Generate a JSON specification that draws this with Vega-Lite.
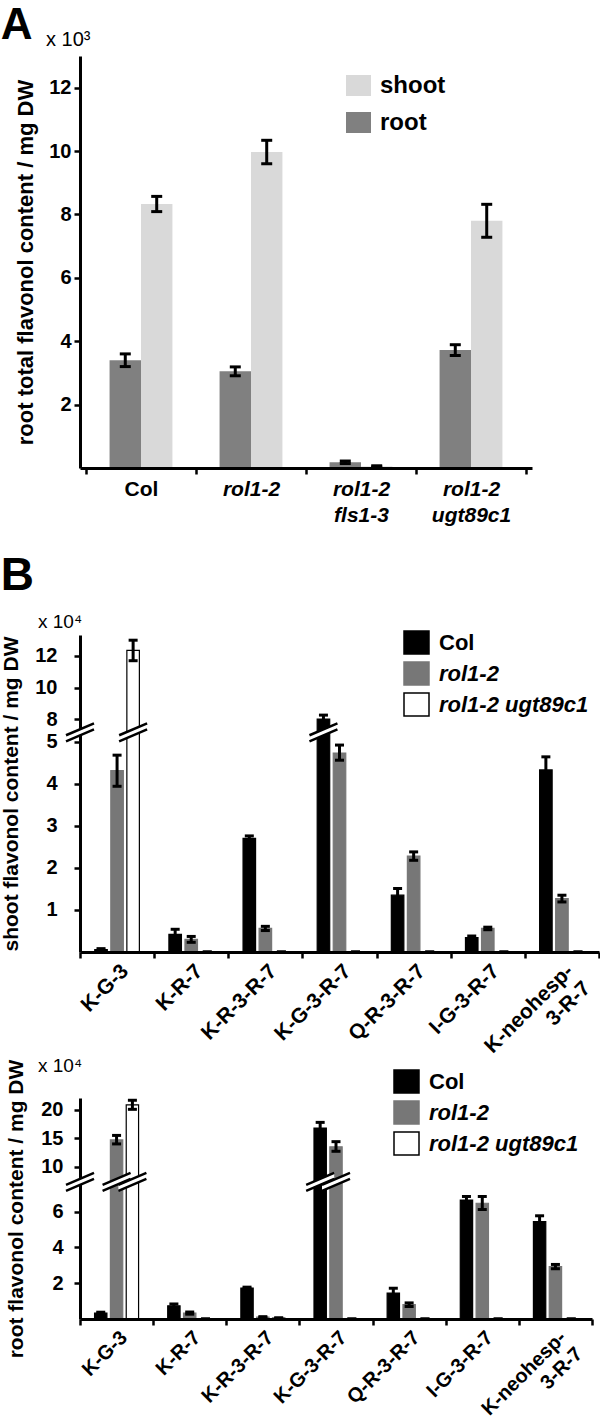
{
  "$schema": "https://vega.github.io/schema/vega-lite/v6.json",
  "padding": {"left": 0, "top": 4, "right": 0, "bottom": 0},
  "title": {"text": "A", "anchor": "start", "frame": "bounds", "fontSize": 44, "fontWeight": "bold", "offset": -18},
  "spacing": 28,
  "resolve": {"scale": {"color": "independent", "fill": "independent", "stroke": "independent", "xOffset": "independent", "x": "independent", "y": "independent"}, "legend": {"color": "independent", "fill": "independent", "stroke": "independent"}},
  "vconcat": [
    {
      "title": {"text": "x 10³", "anchor": "start", "frame": "group", "dx": -34, "fontSize": 20, "fontWeight": "normal", "offset": 6},
      "width": 452,
      "height": 412,
      "data": {"values": [
        {"line": "Col", "tissue": "root", "value": 3.40, "lo": 3.20, "hi": 3.60},
        {"line": "Col", "tissue": "shoot", "value": 8.33, "lo": 8.09, "hi": 8.57},
        {"line": "rol1-2", "tissue": "root", "value": 3.05, "lo": 2.91, "hi": 3.19},
        {"line": "rol1-2", "tissue": "shoot", "value": 9.97, "lo": 9.60, "hi": 10.34},
        {"line": "rol1-2|fls1-3", "tissue": "root", "value": 0.18, "lo": 0.14, "hi": 0.22},
        {"line": "rol1-2|fls1-3", "tissue": "shoot", "value": 0.05, "lo": 0.03, "hi": 0.07},
        {"line": "rol1-2|ugt89c1", "tissue": "root", "value": 3.72, "lo": 3.55, "hi": 3.89},
        {"line": "rol1-2|ugt89c1", "tissue": "shoot", "value": 7.80, "lo": 7.28, "hi": 8.32}
      ]},
      "encoding": {
        "x": {"field": "line", "type": "nominal",
          "scale": {"domain": ["Col", "rol1-2", "rol1-2|fls1-3", "rol1-2|ugt89c1"], "paddingInner": 0, "paddingOuter": 0.0545},
          "axis": {"title": null, "labelAngle": 0, "labelExpr": "split(datum.label, '|')", "labelFontSize": 21, "labelLineHeight": 26,
            "labelFontStyle": {"condition": {"test": "datum.value == 'Col'", "value": "normal"}, "value": "italic"},
            "tickBand": "extent", "domainWidth": 3, "tickWidth": 2.5, "tickSize": 6, "labelPadding": 4, "zindex": 1}},
        "xOffset": {"field": "tissue", "type": "nominal", "scale": {"domain": ["root", "shoot"], "paddingInner": 0, "paddingOuter": 0.75}}
      },
      "layer": [
        {
          "mark": {"type": "bar"},
          "encoding": {
            "y": {"field": "value", "type": "quantitative", "scale": {"domain": [0, 13], "nice": false, "zero": false},
              "axis": {"title": "root total flavonol content / mg DW", "values": [2, 4, 6, 8, 10, 12], "labelFontSize": 20, "titleFontSize": 22, "domainWidth": 3, "tickWidth": 2.5, "tickSize": 6, "labelPadding": 3, "titlePadding": 11, "zindex": 1}},
            "color": {"field": "tissue", "type": "nominal", "scale": {"domain": ["shoot", "root"], "range": ["#d9d9d9", "#808080"]},
              "legend": {"title": null, "orient": "none", "legendX": 265, "legendY": 16, "padding": 0, "symbolType": "M-1,-0.84H1V0.84H-1Z", "symbolSize": 625, "symbolOpacity": 1, "labelFontSize": 24, "labelFontWeight": "bold", "labelOffset": 8, "rowPadding": 11}}
          }
        },
        {
          "mark": {"type": "rule", "strokeWidth": 3, "color": "black"},
          "encoding": {
            "y": {"field": "lo", "type": "quantitative", "scale": {"domain": [0, 13], "nice": false, "zero": false},
              "axis": {"title": "root total flavonol content / mg DW", "values": [2, 4, 6, 8, 10, 12], "labelFontSize": 20, "titleFontSize": 22, "domainWidth": 3, "tickWidth": 2.5, "tickSize": 6, "labelPadding": 3, "titlePadding": 11, "zindex": 1}},
            "y2": {"field": "hi"}
          }
        },
        {
          "mark": {"type": "tick", "size": 11, "thickness": 3, "color": "black", "opacity": 1},
          "encoding": {"y": {"field": "lo", "type": "quantitative", "scale": {"domain": [0, 13], "nice": false, "zero": false},
              "axis": {"title": "root total flavonol content / mg DW", "values": [2, 4, 6, 8, 10, 12], "labelFontSize": 20, "titleFontSize": 22, "domainWidth": 3, "tickWidth": 2.5, "tickSize": 6, "labelPadding": 3, "titlePadding": 11, "zindex": 1}}}
        },
        {
          "mark": {"type": "tick", "size": 11, "thickness": 3, "color": "black", "opacity": 1},
          "encoding": {"y": {"field": "hi", "type": "quantitative", "scale": {"domain": [0, 13], "nice": false, "zero": false},
              "axis": {"title": "root total flavonol content / mg DW", "values": [2, 4, 6, 8, 10, 12], "labelFontSize": 20, "titleFontSize": 22, "domainWidth": 3, "tickWidth": 2.5, "tickSize": 6, "labelPadding": 3, "titlePadding": 11, "zindex": 1}}}
        }
      ]
    },
    {
      "title": {"text": "B", "anchor": "start", "frame": "bounds", "fontSize": 46, "fontWeight": "bold", "offset": 13},
      "spacing": -17,
      "resolve": {"scale": {"color": "independent", "fill": "independent", "stroke": "independent", "xOffset": "independent", "x": "independent", "y": "independent"}, "legend": {"color": "independent", "fill": "independent", "stroke": "independent"}},
      "vconcat": [
        {
          "title": {"text": "x 10⁴", "anchor": "start", "frame": "group", "dx": -42, "fontSize": 19, "fontWeight": "normal", "offset": -3},
          "width": 519,
          "height": 317,
          "data": {"values": [
            {"compound": "K-G-3", "genotype": "Col", "value": 0.06, "lo": 0.04, "hi": 0.08},
            {"compound": "K-G-3", "genotype": "rol1-2", "value": 4.31, "lo": 3.94, "hi": 4.68},
            {"compound": "K-G-3", "genotype": "rol1-2 ugt89c1", "value": 12.35, "lo": 11.7, "hi": 13.0},
            {"compound": "K-R-7", "genotype": "Col", "value": 0.42, "lo": 0.30, "hi": 0.54},
            {"compound": "K-R-7", "genotype": "rol1-2", "value": 0.30, "lo": 0.23, "hi": 0.37},
            {"compound": "K-R-7", "genotype": "rol1-2 ugt89c1", "value": 0, "lo": 0, "hi": 0},
            {"compound": "K-R-3-R-7", "genotype": "Col", "value": 2.70, "lo": 2.64, "hi": 2.76},
            {"compound": "K-R-3-R-7", "genotype": "rol1-2", "value": 0.56, "lo": 0.51, "hi": 0.61},
            {"compound": "K-R-3-R-7", "genotype": "rol1-2 ugt89c1", "value": 0, "lo": 0, "hi": 0},
            {"compound": "K-G-3-R-7", "genotype": "Col", "value": 8.0, "lo": 7.78, "hi": 8.25},
            {"compound": "K-G-3-R-7", "genotype": "rol1-2", "value": 4.73, "lo": 4.56, "hi": 4.92},
            {"compound": "K-G-3-R-7", "genotype": "rol1-2 ugt89c1", "value": 0, "lo": 0, "hi": 0},
            {"compound": "Q-R-3-R-7", "genotype": "Col", "value": 1.35, "lo": 1.20, "hi": 1.51},
            {"compound": "Q-R-3-R-7", "genotype": "rol1-2", "value": 2.28, "lo": 2.18, "hi": 2.38},
            {"compound": "Q-R-3-R-7", "genotype": "rol1-2 ugt89c1", "value": 0, "lo": 0, "hi": 0},
            {"compound": "I-G-3-R-7", "genotype": "Col", "value": 0.34, "lo": 0.30, "hi": 0.38},
            {"compound": "I-G-3-R-7", "genotype": "rol1-2", "value": 0.56, "lo": 0.53, "hi": 0.59},
            {"compound": "I-G-3-R-7", "genotype": "rol1-2 ugt89c1", "value": 0, "lo": 0, "hi": 0},
            {"compound": "K-neohesp-|3-R-7", "genotype": "Col", "value": 4.33, "lo": 4.02, "hi": 4.64},
            {"compound": "K-neohesp-|3-R-7", "genotype": "rol1-2", "value": 1.27, "lo": 1.19, "hi": 1.35},
            {"compound": "K-neohesp-|3-R-7", "genotype": "rol1-2 ugt89c1", "value": 0, "lo": 0, "hi": 0}
          ]},
          "encoding": {
            "x": {"field": "compound", "type": "nominal",
              "scale": {"domain": ["K-G-3", "K-R-7", "K-R-3-R-7", "K-G-3-R-7", "Q-R-3-R-7", "I-G-3-R-7", "K-neohesp-|3-R-7"], "paddingInner": 0, "paddingOuter": 0},
              "axis": {"title": null, "labelAngle": -45, "labelExpr": "split(datum.label, '|')", "labelFontSize": 21, "labelLineHeight": 24, "tickBand": "extent", "domainWidth": 3, "tickWidth": 2.5, "tickSize": 6, "labelPadding": 2, "zindex": 1}}
          },
          "layer": [
            {
              "mark": {"type": "bar", "strokeWidth": 1.2},
              "encoding": {
                "xOffset": {"field": "genotype", "type": "nominal", "scale": {"domain": ["Col", "rol1-2", "rol1-2 ugt89c1"], "paddingInner": 0.22, "paddingOuter": 0.92}},
                "y": {"field": "value", "type": "quantitative", "scale": {"domain": [0, 5, 7.75, 13.33], "range": [317, 106.7, 88, 0], "nice": false, "zero": false},
                  "axis": {"title": "shoot flavonol content / mg DW", "values": [1, 2, 3, 4, 5, 8, 10, 12], "labelFontSize": 20, "titleFontSize": 21, "domainWidth": 3, "tickWidth": 2.5, "tickSize": 6, "labelPadding": 17, "titlePadding": 13, "zindex": 0}},
                "fill": {"field": "genotype", "type": "nominal", "scale": {"domain": ["Col", "rol1-2", "rol1-2 ugt89c1"], "range": ["#000000", "#777777", "#ffffff"]},
                  "legend": {"title": null, "orient": "none", "legendX": 323, "legendY": -6, "padding": 0, "symbolType": "M-1,-0.92H1V0.92H-1Z", "symbolSize": 625, "symbolStrokeWidth": 1.5, "symbolOpacity": 1, "labelFontSize": 22, "labelFontWeight": "bold", "labelFontStyle": {"expr": "datum.label === 'Col' ? 'normal' : 'italic'"}, "labelOffset": 9, "rowPadding": 2}},
                "stroke": {"field": "genotype", "type": "nominal", "scale": {"domain": ["Col", "rol1-2", "rol1-2 ugt89c1"], "range": ["#000000", "#777777", "#000000"]},
                  "legend": {"title": null, "orient": "none", "legendX": 323, "legendY": -6, "padding": 0, "symbolType": "M-1,-0.92H1V0.92H-1Z", "symbolSize": 625, "symbolStrokeWidth": 1.5, "symbolOpacity": 1, "labelFontSize": 22, "labelFontWeight": "bold", "labelFontStyle": {"expr": "datum.label === 'Col' ? 'normal' : 'italic'"}, "labelOffset": 9, "rowPadding": 2}}
              }
            },
            {
              "mark": {"type": "rule", "strokeWidth": 3, "color": "black"},
              "encoding": {
                "xOffset": {"field": "genotype", "type": "nominal", "scale": {"domain": ["Col", "rol1-2", "rol1-2 ugt89c1"], "paddingInner": 0.22, "paddingOuter": 0.92}},
                "y": {"field": "lo", "type": "quantitative", "scale": {"domain": [0, 5, 7.75, 13.33], "range": [317, 106.7, 88, 0], "nice": false, "zero": false},
                  "axis": {"title": "shoot flavonol content / mg DW", "values": [1, 2, 3, 4, 5, 8, 10, 12], "labelFontSize": 20, "titleFontSize": 21, "domainWidth": 3, "tickWidth": 2.5, "tickSize": 6, "labelPadding": 17, "titlePadding": 13, "zindex": 0}},
                "y2": {"field": "hi"}
              }
            },
            {
              "mark": {"type": "tick", "size": 9, "thickness": 3, "color": "black", "opacity": 1},
              "encoding": {
                "xOffset": {"field": "genotype", "type": "nominal", "scale": {"domain": ["Col", "rol1-2", "rol1-2 ugt89c1"], "paddingInner": 0.22, "paddingOuter": 0.92}},
                "y": {"field": "lo", "type": "quantitative", "scale": {"domain": [0, 5, 7.75, 13.33], "range": [317, 106.7, 88, 0], "nice": false, "zero": false},
                  "axis": {"title": "shoot flavonol content / mg DW", "values": [1, 2, 3, 4, 5, 8, 10, 12], "labelFontSize": 20, "titleFontSize": 21, "domainWidth": 3, "tickWidth": 2.5, "tickSize": 6, "labelPadding": 17, "titlePadding": 13, "zindex": 0}}
              }
            },
            {
              "mark": {"type": "tick", "size": 9, "thickness": 3, "color": "black", "opacity": 1},
              "encoding": {
                "xOffset": {"field": "genotype", "type": "nominal", "scale": {"domain": ["Col", "rol1-2", "rol1-2 ugt89c1"], "paddingInner": 0.22, "paddingOuter": 0.92}},
                "y": {"field": "hi", "type": "quantitative", "scale": {"domain": [0, 5, 7.75, 13.33], "range": [317, 106.7, 88, 0], "nice": false, "zero": false},
                  "axis": {"title": "shoot flavonol content / mg DW", "values": [1, 2, 3, 4, 5, 8, 10, 12], "labelFontSize": 20, "titleFontSize": 21, "domainWidth": 3, "tickWidth": 2.5, "tickSize": 6, "labelPadding": 17, "titlePadding": 13, "zindex": 0}}
              }
            },
            {
              "data": {"values": [{"compound": "K-G-3", "genotype": "rol1-2 ugt89c1", "brk": 6.38}, {"compound": "K-G-3-R-7", "genotype": "Col", "brk": 6.38}]},
              "mark": {"type": "point", "shape": "M-1,0.21L1,-0.64L1,-0.21L-1,0.64Z", "size": 784, "filled": true, "fill": "white", "strokeWidth": 0, "opacity": 1},
              "encoding": {
                "xOffset": {"field": "genotype", "type": "nominal", "scale": {"domain": ["Col", "rol1-2", "rol1-2 ugt89c1"], "paddingInner": 0.22, "paddingOuter": 0.92}},
                "y": {"field": "brk", "type": "quantitative", "scale": {"domain": [0, 5, 7.75, 13.33], "range": [317, 106.7, 88, 0], "nice": false, "zero": false},
                  "axis": {"title": "shoot flavonol content / mg DW", "values": [1, 2, 3, 4, 5, 8, 10, 12], "labelFontSize": 20, "titleFontSize": 21, "domainWidth": 3, "tickWidth": 2.5, "tickSize": 6, "labelPadding": 17, "titlePadding": 13, "zindex": 0}}
              }
            },
            {
              "data": {"values": [{"compound": "K-G-3", "genotype": "rol1-2 ugt89c1", "brk": 6.38}, {"compound": "K-G-3-R-7", "genotype": "Col", "brk": 6.38}]},
              "mark": {"type": "point", "shape": "M-1,0.21L1,-0.64M-1,0.64L1,-0.21", "size": 784, "filled": false, "stroke": "black", "strokeWidth": 2.5, "opacity": 1},
              "encoding": {
                "xOffset": {"field": "genotype", "type": "nominal", "scale": {"domain": ["Col", "rol1-2", "rol1-2 ugt89c1"], "paddingInner": 0.22, "paddingOuter": 0.92}},
                "y": {"field": "brk", "type": "quantitative", "scale": {"domain": [0, 5, 7.75, 13.33], "range": [317, 106.7, 88, 0], "nice": false, "zero": false},
                  "axis": {"title": "shoot flavonol content / mg DW", "values": [1, 2, 3, 4, 5, 8, 10, 12], "labelFontSize": 20, "titleFontSize": 21, "domainWidth": 3, "tickWidth": 2.5, "tickSize": 6, "labelPadding": 17, "titlePadding": 13, "zindex": 0}}
              }
            },
            {
              "data": {"values": [{"compound": "K-G-3", "brk": 6.38}]},
              "mark": {"type": "point", "shape": "M-1,0.21L1,-0.64L1,-0.21L-1,0.64Z", "size": 784, "filled": true, "fill": "white", "strokeWidth": 0, "opacity": 1},
              "encoding": {
                "x": {"field": "compound", "type": "nominal", "bandPosition": 0},
                "y": {"field": "brk", "type": "quantitative", "scale": {"domain": [0, 5, 7.75, 13.33], "range": [317, 106.7, 88, 0], "nice": false, "zero": false},
                  "axis": {"title": "shoot flavonol content / mg DW", "values": [1, 2, 3, 4, 5, 8, 10, 12], "labelFontSize": 20, "titleFontSize": 21, "domainWidth": 3, "tickWidth": 2.5, "tickSize": 6, "labelPadding": 17, "titlePadding": 13, "zindex": 0}}
              }
            },
            {
              "data": {"values": [{"compound": "K-G-3", "brk": 6.38}]},
              "mark": {"type": "point", "shape": "M-1,0.21L1,-0.64M-1,0.64L1,-0.21", "size": 784, "filled": false, "stroke": "black", "strokeWidth": 2.5, "opacity": 1},
              "encoding": {
                "x": {"field": "compound", "type": "nominal", "bandPosition": 0},
                "y": {"field": "brk", "type": "quantitative", "scale": {"domain": [0, 5, 7.75, 13.33], "range": [317, 106.7, 88, 0], "nice": false, "zero": false},
                  "axis": {"title": "shoot flavonol content / mg DW", "values": [1, 2, 3, 4, 5, 8, 10, 12], "labelFontSize": 20, "titleFontSize": 21, "domainWidth": 3, "tickWidth": 2.5, "tickSize": 6, "labelPadding": 17, "titlePadding": 13, "zindex": 0}}
              }
            }
          ]
        },
        {
          "title": {"text": "x 10⁴", "anchor": "start", "frame": "group", "dx": -42, "fontSize": 19, "fontWeight": "normal", "offset": -17},
          "width": 512,
          "height": 221,
          "data": {"values": [
            {"compound": "K-G-3", "genotype": "Col", "value": 0.33, "lo": 0.28, "hi": 0.38},
            {"compound": "K-G-3", "genotype": "rol1-2", "value": 14.7, "lo": 14.0, "hi": 15.5},
            {"compound": "K-G-3", "genotype": "rol1-2 ugt89c1", "value": 20.9, "lo": 20.1, "hi": 21.7},
            {"compound": "K-R-7", "genotype": "Col", "value": 0.74, "lo": 0.64, "hi": 0.84},
            {"compound": "K-R-7", "genotype": "rol1-2", "value": 0.33, "lo": 0.27, "hi": 0.39},
            {"compound": "K-R-7", "genotype": "rol1-2 ugt89c1", "value": 0, "lo": 0, "hi": 0},
            {"compound": "K-R-3-R-7", "genotype": "Col", "value": 1.73, "lo": 1.68, "hi": 1.78},
            {"compound": "K-R-3-R-7", "genotype": "rol1-2", "value": 0.1, "lo": 0.07, "hi": 0.13},
            {"compound": "K-R-3-R-7", "genotype": "rol1-2 ugt89c1", "value": 0.05, "lo": 0.03, "hi": 0.07},
            {"compound": "K-G-3-R-7", "genotype": "Col", "value": 16.8, "lo": 15.9, "hi": 17.8},
            {"compound": "K-G-3-R-7", "genotype": "rol1-2", "value": 13.5, "lo": 12.7, "hi": 14.4},
            {"compound": "K-G-3-R-7", "genotype": "rol1-2 ugt89c1", "value": 0, "lo": 0, "hi": 0},
            {"compound": "Q-R-3-R-7", "genotype": "Col", "value": 1.45, "lo": 1.2, "hi": 1.72},
            {"compound": "Q-R-3-R-7", "genotype": "rol1-2", "value": 0.8, "lo": 0.7, "hi": 0.9},
            {"compound": "Q-R-3-R-7", "genotype": "rol1-2 ugt89c1", "value": 0, "lo": 0, "hi": 0},
            {"compound": "I-G-3-R-7", "genotype": "Col", "value": 6.65, "lo": 6.45, "hi": 6.85},
            {"compound": "I-G-3-R-7", "genotype": "rol1-2", "value": 6.47, "lo": 6.12, "hi": 6.85},
            {"compound": "I-G-3-R-7", "genotype": "rol1-2 ugt89c1", "value": 0, "lo": 0, "hi": 0},
            {"compound": "K-neohesp-|3-R-7", "genotype": "Col", "value": 5.45, "lo": 5.15, "hi": 5.77},
            {"compound": "K-neohesp-|3-R-7", "genotype": "rol1-2", "value": 2.93, "lo": 2.81, "hi": 3.05},
            {"compound": "K-neohesp-|3-R-7", "genotype": "rol1-2 ugt89c1", "value": 0, "lo": 0, "hi": 0}
          ]},
          "encoding": {
            "x": {"field": "compound", "type": "nominal",
              "scale": {"domain": ["K-G-3", "K-R-7", "K-R-3-R-7", "K-G-3-R-7", "Q-R-3-R-7", "I-G-3-R-7", "K-neohesp-|3-R-7"], "paddingInner": 0, "paddingOuter": 0},
              "axis": {"title": null, "labelAngle": -45, "labelExpr": "split(datum.label, '|')", "labelFontSize": 20, "labelLineHeight": 23, "tickBand": "extent", "domainWidth": 3, "tickWidth": 2.5, "tickSize": 6, "labelPadding": 2, "zindex": 1}}
          },
          "layer": [
            {
              "mark": {"type": "bar", "strokeWidth": 1.2},
              "encoding": {
                "xOffset": {"field": "genotype", "type": "nominal", "scale": {"domain": ["Col", "rol1-2", "rol1-2 ugt89c1"], "paddingInner": 0.22, "paddingOuter": 0.92}},
                "y": {"field": "value", "type": "quantitative", "scale": {"domain": [0, 7.1, 9.1, 22.1], "range": [221, 94, 73.7, 0], "nice": false, "zero": false},
                  "axis": {"title": "root flavonol content / mg DW", "values": [2, 4, 6, 10, 15, 20], "labelFontSize": 20, "titleFontSize": 21, "domainWidth": 3, "tickWidth": 2.5, "tickSize": 6, "labelPadding": 11, "titlePadding": 14, "zindex": 0}},
                "fill": {"field": "genotype", "type": "nominal", "scale": {"domain": ["Col", "rol1-2", "rol1-2 ugt89c1"], "range": ["#000000", "#777777", "#ffffff"]},
                  "legend": {"title": null, "orient": "none", "legendX": 313, "legendY": -30, "padding": 0, "symbolType": "M-1,-0.92H1V0.92H-1Z", "symbolSize": 625, "symbolStrokeWidth": 1.5, "symbolOpacity": 1, "labelFontSize": 22, "labelFontWeight": "bold", "labelFontStyle": {"expr": "datum.label === 'Col' ? 'normal' : 'italic'"}, "labelOffset": 9, "rowPadding": 2}},
                "stroke": {"field": "genotype", "type": "nominal", "scale": {"domain": ["Col", "rol1-2", "rol1-2 ugt89c1"], "range": ["#000000", "#777777", "#000000"]},
                  "legend": {"title": null, "orient": "none", "legendX": 313, "legendY": -30, "padding": 0, "symbolType": "M-1,-0.92H1V0.92H-1Z", "symbolSize": 625, "symbolStrokeWidth": 1.5, "symbolOpacity": 1, "labelFontSize": 22, "labelFontWeight": "bold", "labelFontStyle": {"expr": "datum.label === 'Col' ? 'normal' : 'italic'"}, "labelOffset": 9, "rowPadding": 2}}
              }
            },
            {
              "mark": {"type": "rule", "strokeWidth": 3, "color": "black"},
              "encoding": {
                "xOffset": {"field": "genotype", "type": "nominal", "scale": {"domain": ["Col", "rol1-2", "rol1-2 ugt89c1"], "paddingInner": 0.22, "paddingOuter": 0.92}},
                "y": {"field": "lo", "type": "quantitative", "scale": {"domain": [0, 7.1, 9.1, 22.1], "range": [221, 94, 73.7, 0], "nice": false, "zero": false},
                  "axis": {"title": "root flavonol content / mg DW", "values": [2, 4, 6, 10, 15, 20], "labelFontSize": 20, "titleFontSize": 21, "domainWidth": 3, "tickWidth": 2.5, "tickSize": 6, "labelPadding": 11, "titlePadding": 14, "zindex": 0}},
                "y2": {"field": "hi"}
              }
            },
            {
              "mark": {"type": "tick", "size": 9, "thickness": 3, "color": "black", "opacity": 1},
              "encoding": {
                "xOffset": {"field": "genotype", "type": "nominal", "scale": {"domain": ["Col", "rol1-2", "rol1-2 ugt89c1"], "paddingInner": 0.22, "paddingOuter": 0.92}},
                "y": {"field": "lo", "type": "quantitative", "scale": {"domain": [0, 7.1, 9.1, 22.1], "range": [221, 94, 73.7, 0], "nice": false, "zero": false},
                  "axis": {"title": "root flavonol content / mg DW", "values": [2, 4, 6, 10, 15, 20], "labelFontSize": 20, "titleFontSize": 21, "domainWidth": 3, "tickWidth": 2.5, "tickSize": 6, "labelPadding": 11, "titlePadding": 14, "zindex": 0}}
              }
            },
            {
              "mark": {"type": "tick", "size": 9, "thickness": 3, "color": "black", "opacity": 1},
              "encoding": {
                "xOffset": {"field": "genotype", "type": "nominal", "scale": {"domain": ["Col", "rol1-2", "rol1-2 ugt89c1"], "paddingInner": 0.22, "paddingOuter": 0.92}},
                "y": {"field": "hi", "type": "quantitative", "scale": {"domain": [0, 7.1, 9.1, 22.1], "range": [221, 94, 73.7, 0], "nice": false, "zero": false},
                  "axis": {"title": "root flavonol content / mg DW", "values": [2, 4, 6, 10, 15, 20], "labelFontSize": 20, "titleFontSize": 21, "domainWidth": 3, "tickWidth": 2.5, "tickSize": 6, "labelPadding": 11, "titlePadding": 14, "zindex": 0}}
              }
            },
            {
              "data": {"values": [{"compound": "K-G-3", "genotype": "rol1-2", "brk": 8.1}, {"compound": "K-G-3", "genotype": "rol1-2 ugt89c1", "brk": 8.1}, {"compound": "K-G-3-R-7", "genotype": "Col", "brk": 8.1}, {"compound": "K-G-3-R-7", "genotype": "rol1-2", "brk": 8.1}]},
              "mark": {"type": "point", "shape": "M-1,0.21L1,-0.64L1,-0.21L-1,0.64Z", "size": 784, "filled": true, "fill": "white", "strokeWidth": 0, "opacity": 1},
              "encoding": {
                "xOffset": {"field": "genotype", "type": "nominal", "scale": {"domain": ["Col", "rol1-2", "rol1-2 ugt89c1"], "paddingInner": 0.22, "paddingOuter": 0.92}},
                "y": {"field": "brk", "type": "quantitative", "scale": {"domain": [0, 7.1, 9.1, 22.1], "range": [221, 94, 73.7, 0], "nice": false, "zero": false},
                  "axis": {"title": "root flavonol content / mg DW", "values": [2, 4, 6, 10, 15, 20], "labelFontSize": 20, "titleFontSize": 21, "domainWidth": 3, "tickWidth": 2.5, "tickSize": 6, "labelPadding": 11, "titlePadding": 14, "zindex": 0}}
              }
            },
            {
              "data": {"values": [{"compound": "K-G-3", "genotype": "rol1-2", "brk": 8.1}, {"compound": "K-G-3", "genotype": "rol1-2 ugt89c1", "brk": 8.1}, {"compound": "K-G-3-R-7", "genotype": "Col", "brk": 8.1}, {"compound": "K-G-3-R-7", "genotype": "rol1-2", "brk": 8.1}]},
              "mark": {"type": "point", "shape": "M-1,0.21L1,-0.64M-1,0.64L1,-0.21", "size": 784, "filled": false, "stroke": "black", "strokeWidth": 2.5, "opacity": 1},
              "encoding": {
                "xOffset": {"field": "genotype", "type": "nominal", "scale": {"domain": ["Col", "rol1-2", "rol1-2 ugt89c1"], "paddingInner": 0.22, "paddingOuter": 0.92}},
                "y": {"field": "brk", "type": "quantitative", "scale": {"domain": [0, 7.1, 9.1, 22.1], "range": [221, 94, 73.7, 0], "nice": false, "zero": false},
                  "axis": {"title": "root flavonol content / mg DW", "values": [2, 4, 6, 10, 15, 20], "labelFontSize": 20, "titleFontSize": 21, "domainWidth": 3, "tickWidth": 2.5, "tickSize": 6, "labelPadding": 11, "titlePadding": 14, "zindex": 0}}
              }
            },
            {
              "data": {"values": [{"compound": "K-G-3", "brk": 8.1}]},
              "mark": {"type": "point", "shape": "M-1,0.21L1,-0.64L1,-0.21L-1,0.64Z", "size": 784, "filled": true, "fill": "white", "strokeWidth": 0, "opacity": 1},
              "encoding": {
                "x": {"field": "compound", "type": "nominal", "bandPosition": 0},
                "y": {"field": "brk", "type": "quantitative", "scale": {"domain": [0, 7.1, 9.1, 22.1], "range": [221, 94, 73.7, 0], "nice": false, "zero": false},
                  "axis": {"title": "root flavonol content / mg DW", "values": [2, 4, 6, 10, 15, 20], "labelFontSize": 20, "titleFontSize": 21, "domainWidth": 3, "tickWidth": 2.5, "tickSize": 6, "labelPadding": 11, "titlePadding": 14, "zindex": 0}}
              }
            },
            {
              "data": {"values": [{"compound": "K-G-3", "brk": 8.1}]},
              "mark": {"type": "point", "shape": "M-1,0.21L1,-0.64M-1,0.64L1,-0.21", "size": 784, "filled": false, "stroke": "black", "strokeWidth": 2.5, "opacity": 1},
              "encoding": {
                "x": {"field": "compound", "type": "nominal", "bandPosition": 0},
                "y": {"field": "brk", "type": "quantitative", "scale": {"domain": [0, 7.1, 9.1, 22.1], "range": [221, 94, 73.7, 0], "nice": false, "zero": false},
                  "axis": {"title": "root flavonol content / mg DW", "values": [2, 4, 6, 10, 15, 20], "labelFontSize": 20, "titleFontSize": 21, "domainWidth": 3, "tickWidth": 2.5, "tickSize": 6, "labelPadding": 11, "titlePadding": 14, "zindex": 0}}
              }
            }
          ]
        }
      ]
    }
  ],
  "config": {
    "font": "Liberation Sans",
    "view": {"stroke": null},
    "axis": {"grid": false, "domainColor": "black", "tickColor": "black", "labelColor": "black", "titleColor": "black", "labelFont": "Liberation Sans", "titleFont": "Liberation Sans", "labelFontWeight": "bold", "titleFontWeight": "bold"},
    "legend": {"labelFont": "Liberation Sans", "labelColor": "black", "labelFontWeight": "bold"},
    "title": {"font": "Liberation Sans", "color": "black"}
  }
}
